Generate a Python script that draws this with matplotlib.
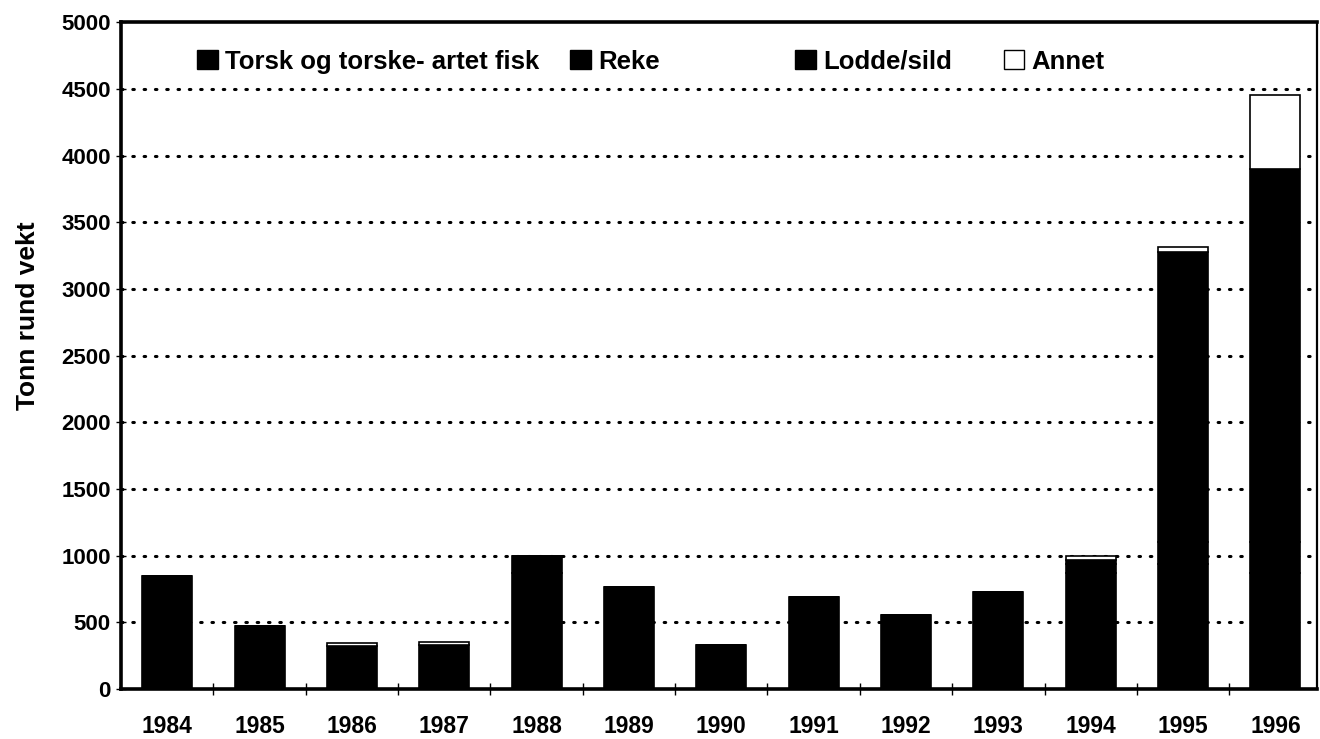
import numpy as np
import matplotlib
matplotlib.use("Agg")
import matplotlib.pyplot as plt
from matplotlib.patches import Patch

# Fangst per aar (tonn rund vekt)
years = ["1984", "1985", "1986", "1987", "1988", "1989", "1990",
         "1991", "1992", "1993", "1994", "1995", "1996"]
torsk = [850, 470, 322, 330, 870, 765, 330, 690, 555, 725, 870, 940, 870]
reke = [0, 0, 0, 0, 130, 0, 0, 0, 0, 0, 67, 160, 230]
lodde = [0, 0, 0, 0, 0, 0, 0, 0, 0, 0, 30, 2175, 2800]
annet = [0, 0, 26, 20, 0, 0, 0, 0, 0, 0, 28, 40, 555]

series_names = ["Torsk og torske- artet fisk", "Reke", "Lodde/sild", "Annet"]
series_colors = ["#000000", "#000000", "#000000", "#ffffff"]

plt.rcParams["font.family"] = ["Liberation Sans", "DejaVu Sans"]
plt.rcParams["font.weight"] = "bold"

fig = plt.figure(figsize=(13.2, 7.39), dpi=100)
ax = fig.add_axes([0.0917, 0.0677, 0.906, 0.9023])

x = np.arange(len(years))
width = 0.54
bottom = np.zeros(len(years))
for vals, name, col in zip([torsk, reke, lodde, annet], series_names, series_colors):
    vals = np.array(vals, dtype=float)
    ax.bar(x, vals, width, bottom=bottom, color=col, edgecolor="black",
           linewidth=1.2, label=name, zorder=3)
    bottom += vals

# Akser
ax.set_xlim(-0.5, 12.45)
ax.set_ylim(0, 5000)
ax.set_yticks(np.arange(0, 5001, 500))
ax.set_xticks(x)
ax.set_xticklabels(years)
ax.set_xticks(np.arange(0.5, 12, 1), minor=True)

for yv in np.arange(500, 5000, 500):
    ax.axhline(yv, color="black", linestyle=(0, (0.5, 3.2)), linewidth=2.2,
               dash_capstyle="round", zorder=1)

ax.tick_params(axis="x", which="major", length=0, pad=19, labelsize=16.5)
ax.tick_params(axis="x", which="minor", direction="inout", length=9, width=1)
ax.tick_params(axis="y", direction="inout", length=7, width=1, pad=4, labelsize=16)
for lab in ax.get_xticklabels() + ax.get_yticklabels():
    lab.set_fontweight("bold")

for side in ["left", "bottom", "top"]:
    ax.spines[side].set_linewidth(2.6)
ax.spines["right"].set_linewidth(1.6)

ax.set_ylabel("Tonn rund vekt", fontsize=19, fontweight="bold")
ax.yaxis.set_label_coords(-0.068, 0.56)

# Tegnforklaring
handles = [Patch(facecolor=c, edgecolor="black", linewidth=1) for c in series_colors]
leg_kw = dict(frameon=False, ncol=2, handlelength=0.8, handleheight=0.8,
              handletextpad=0.3, prop={"size": 18.5, "weight": "bold"},
              borderaxespad=0, loc="center left")
leg1 = ax.legend(handles[:2], series_names[:2], bbox_to_anchor=(0.055, 0.941),
                 columnspacing=1.2, **leg_kw)
ax.add_artist(leg1)
ax.legend(handles[2:], series_names[2:], bbox_to_anchor=(0.555, 0.941),
          columnspacing=2.0, **leg_kw)

fig.savefig("out.png", dpi=100)
